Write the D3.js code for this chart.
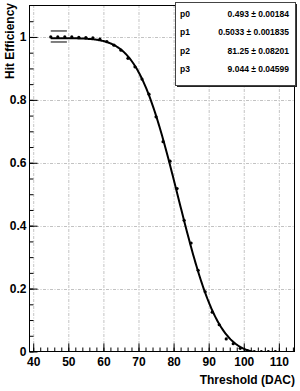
<!DOCTYPE html>
<html>
<head>
<meta charset="utf-8">
<script src="https://cdn.jsdelivr.net/npm/d3@7/dist/d3.min.js"></script>
<style>
  html, body { margin: 0; padding: 0; background: #fff; }
  svg { display: block; font-family: "Liberation Sans", Arial, Helvetica, sans-serif; }
</style>
</head>
<body>
<svg id="chart" width="300" height="391"></svg>
<script>
// ---- data ----
const thresholds = [45, 47, 49, 51, 53, 55, 57, 59, 61, 63, 65, 67, 69, 71, 73, 75, 77, 79, 81, 83, 85, 87, 89, 91, 93, 95, 97, 99, 101, 103, 105, 107, 109];
const efficiency = [1.0, 1.0, 1.0, 1.0, 0.999, 0.998, 0.997, 0.993, 0.985, 0.974, 0.958, 0.932, 0.905, 0.866, 0.818, 0.746, 0.667, 0.605, 0.518, 0.417, 0.345, 0.258, 0.19, 0.125, 0.085, 0.04, 0.025, 0.01, 0.003, 0.0, 0.0, 0.0, 0.0];
const errCapX = [45, 49.6];
const errCapY = [1.019, 0.984];
const xTicks = [40, 50, 60, 70, 80, 90, 100, 110];
const yTicks = [0, 0.2, 0.4, 0.6, 0.8, 1];
const paramNames = ["p0", "p1", "p2", "p3"];
const paramTexts = ["0.493 \u00b1 0.00184", "0.5033 \u00b1 0.001835", "81.25 \u00b1 0.08201", "9.044 \u00b1 0.04599"];
const paramValues = [0.493, 0.5033, 81.25, 9.044];
const fitRange = [45, 112];

// ---- layout ----
const svg = d3.select("#chart");
const L = 29, R = 295, T = 5, B = 352;
const x = d3.scaleLinear().domain([38.8, 114.6]).range([L, R]);
const y = d3.scaleLinear().domain([0, 1.1]).range([351.5, 5.5]);

svg.append("defs").append("clipPath").attr("id", "frame")
  .append("rect").attr("x", L).attr("y", T).attr("width", R - L).attr("height", B - T);

// grid
const grid = svg.append("g").attr("stroke", "#a8a8a8").attr("stroke-width", 0.7)
  .attr("stroke-dasharray", "3,1.5,1,1.5");
grid.selectAll("line.v").data(xTicks).join("line")
  .attr("x1", d => x(d) + 0.5).attr("x2", d => x(d) + 0.5).attr("y1", T).attr("y2", B);
grid.selectAll("line.h").data(yTicks.filter(d => d > 0)).join("line")
  .attr("y1", d => Math.round(y(d)) + 0.5).attr("y2", d => Math.round(y(d)) + 0.5).attr("x1", L).attr("x2", R);

// frame
svg.append("rect").attr("x", L + 0.5).attr("y", T + 0.5).attr("width", R - L - 1).attr("height", B - T - 1)
  .attr("fill", "none").attr("stroke", "#000").attr("stroke-width", 1);

// x axis
const xMinor = d3.range(40, 115, 2);
svg.append("g").attr("transform", `translate(0,${B - 0.5})`)
  .call(d3.axisBottom(x).tickValues(xMinor).tickSizeInner(-4).tickSizeOuter(0).tickFormat(""))
  .call(g => g.select(".domain").remove());
svg.append("g").attr("transform", `translate(0,${B - 0.5})`)
  .call(d3.axisBottom(x).tickValues(xTicks).tickSizeInner(-8).tickSizeOuter(0).tickPadding(6).tickFormat(d3.format("d")))
  .call(g => g.select(".domain").remove())
  .call(g => g.selectAll("text").attr("font-size", 12).attr("font-weight", "bold").attr("fill", "#000")
    .attr("font-family", "Liberation Sans, Arial, sans-serif"));

// y axis
const yMinor = d3.range(0, 1.1, 0.05);
svg.append("g").attr("transform", `translate(${L + 0.5},0)`)
  .call(d3.axisLeft(y).tickValues(yMinor).tickSizeInner(-4).tickSizeOuter(0).tickFormat(""))
  .call(g => g.select(".domain").remove());
svg.append("g").attr("transform", `translate(${L + 0.5},0)`)
  .call(d3.axisLeft(y).tickValues(yTicks).tickSizeInner(-8).tickSizeOuter(0).tickPadding(3).tickFormat(d => d3.format("")(+d.toFixed(1))))
  .call(g => g.select(".domain").remove())
  .call(g => g.selectAll("text").attr("font-size", 12).attr("font-weight", "bold").attr("fill", "#000")
    .attr("font-family", "Liberation Sans, Arial, sans-serif"));

// titles
svg.append("text").attr("x", R).attr("y", 384).attr("text-anchor", "end")
  .attr("font-size", 12).attr("font-weight", "bold").text("Threshold (DAC)");
svg.append("text").attr("transform", `translate(14,3) rotate(-90)`).attr("text-anchor", "end")
  .attr("font-size", 12).attr("font-weight", "bold").text("Hit Efficiency");

// plot content
const plot = svg.append("g").attr("clip-path", "url(#frame)");

// error caps
plot.selectAll("line.cap").data(errCapY).join("line")
  .attr("x1", x(errCapX[0])).attr("x2", x(errCapX[1]))
  .attr("y1", d => y(d)).attr("y2", d => y(d))
  .attr("stroke", "#000").attr("stroke-width", 1);

// fit curve
const [p0, p1, p2, p3] = paramValues;
function erf(z) {
  const s = Math.sign(z); z = Math.abs(z);
  const t = 1 / (1 + 0.3275911 * z);
  const yv = 1 - (((((1.061405429 * t - 1.453152027) * t) + 1.421413741) * t - 0.284496736) * t + 0.254829592) * t * Math.exp(-z * z);
  return s * yv;
}
const fitX = d3.range(fitRange[0], fitRange[1] + 0.001, 0.25);
const fitPts = fitX.map(v => [v, p0 - p1 * erf((v - p2) / (Math.SQRT2 * p3))]);
plot.append("path").datum(fitPts)
  .attr("fill", "none").attr("stroke", "#000").attr("stroke-width", 2)
  .attr("d", d3.line().x(d => x(d[0])).y(d => y(d[1])));

// data points
plot.selectAll("circle").data(thresholds).join("circle")
  .attr("cx", (d, i) => x(d)).attr("cy", (d, i) => y(efficiency[i])).attr("r", 1.6).attr("fill", "#000");

// stats box
const bx = 175, by = 2, bw = 120, bh = 83;
svg.append("rect").attr("x", bx + 2).attr("y", by + 2).attr("width", bw).attr("height", bh).attr("fill", "#222");
svg.append("rect").attr("x", bx + 0.5).attr("y", by + 0.5).attr("width", bw).attr("height", bh)
  .attr("fill", "#fff").attr("stroke", "#444").attr("stroke-width", 1);
const rowY = d3.scalePoint().domain(paramNames).range([17, 72]);
const sb = svg.append("g").attr("font-size", 8.5).attr("font-weight", "bold").attr("fill", "#000");
sb.selectAll("text.n").data(paramNames).join("text").attr("class", "n")
  .attr("x", 180).attr("y", d => rowY(d)).text(d => d);
sb.selectAll("text.v").data(paramTexts).join("text").attr("class", "v")
  .attr("x", 289).attr("y", (d, i) => rowY(paramNames[i])).attr("text-anchor", "end").text(d => d);
</script>
</body>
</html>
